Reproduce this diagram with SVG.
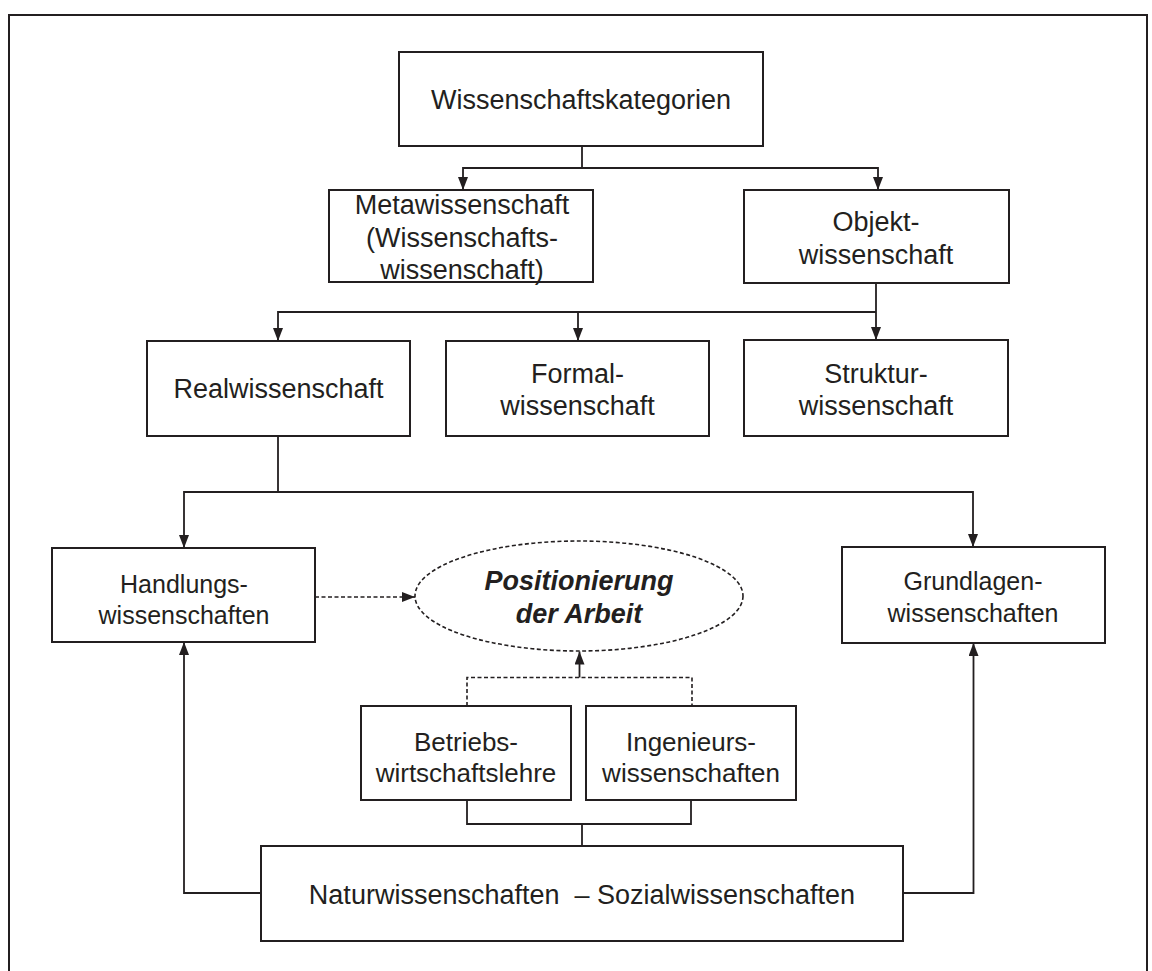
<svg xmlns="http://www.w3.org/2000/svg" width="1152" height="971" viewBox="0 0 1152 971">
<defs>
<style>
.box{fill:#fff;stroke:#231f20;stroke-width:2}
.ln{fill:none;stroke:#231f20;stroke-width:1.8}
.dash{fill:none;stroke:#231f20;stroke-width:1.6;stroke-dasharray:4 2.5}
.t{font-family:"Liberation Sans",Arial,sans-serif;font-size:27px;fill:#231f20;text-anchor:middle}
.t25{font-size:25px}
.t26{font-size:26px}
.bi{font-weight:bold;font-style:italic}
</style>
<marker id="ah" viewBox="0 0 13 10" refX="13" refY="5" markerWidth="13" markerHeight="10" markerUnits="userSpaceOnUse" orient="auto">
<path d="M0,0 L13,5 L0,10 Z" fill="#231f20"/>
</marker>
</defs>
<rect x="0" y="0" width="1152" height="971" fill="#fff"/>
<path d="M9,975 V15 H1147 V975" fill="none" stroke="#231f20" stroke-width="2"/>

<g id="connectors">
<path class="ln" d="M582,146 V168 H463 V190" marker-end="url(#ah)"/>
<path class="ln" d="M582,168 H878 V190" marker-end="url(#ah)"/>
<path class="ln" d="M876,283 V340" marker-end="url(#ah)"/>
<path class="ln" d="M876,312 H278 V341" marker-end="url(#ah)"/>
<path class="ln" d="M578,312 V341" marker-end="url(#ah)"/>
<path class="ln" d="M278,436 V492 H184 V548" marker-end="url(#ah)"/>
<path class="ln" d="M278,492 H973 V547" marker-end="url(#ah)"/>
<path class="dash" d="M315,597 H415" marker-end="url(#ah)"/>
<path class="dash" d="M467,706 V677.5 H692 V706"/>
<path class="ln" d="M579.5,677.5 V651.5" marker-end="url(#ah)"/>
<path class="ln" d="M467,800 V824 H691 V800"/>
<path class="ln" d="M582,824 V846"/>
<path class="ln" d="M261,893 H184 V642" marker-end="url(#ah)"/>
<path class="ln" d="M903,893 H973.5 V643" marker-end="url(#ah)"/>
</g>

<g id="n-kategorien">
<rect class="box" x="399" y="52" width="364" height="94"/>
<text class="t" x="581" y="109">Wissenschaftskategorien</text>
</g>
<g id="n-meta">
<rect class="box" x="329" y="190" width="264" height="92"/>
<text class="t" x="462" y="214">Metawissenschaft</text>
<text class="t" x="462" y="246.5">(Wissenschafts-</text>
<text class="t" x="462" y="279">wissenschaft)</text>
</g>
<g id="n-objekt">
<rect class="box" x="744" y="190" width="265" height="93"/>
<text class="t" x="876" y="231">Objekt-</text>
<text class="t" x="876" y="263.5">wissenschaft</text>
</g>
<g id="n-real">
<rect class="box" x="147" y="341" width="263" height="95"/>
<text class="t" x="278.5" y="398">Realwissenschaft</text>
</g>
<g id="n-formal">
<rect class="box" x="446" y="341" width="263" height="95"/>
<text class="t" x="577.5" y="383">Formal-</text>
<text class="t" x="577.5" y="415">wissenschaft</text>
</g>
<g id="n-struktur">
<rect class="box" x="744" y="340" width="264" height="96"/>
<text class="t" x="876" y="383">Struktur-</text>
<text class="t" x="876" y="415">wissenschaft</text>
</g>
<g id="n-handlung">
<rect class="box" x="52" y="548" width="263" height="94"/>
<text class="t t25" x="184" y="593">Handlungs-</text>
<text class="t t25" x="184" y="624">wissenschaften</text>
</g>
<g id="n-position">
<ellipse cx="579" cy="596" rx="164" ry="55" fill="#fff" stroke="#231f20" stroke-width="1.6" stroke-dasharray="4 2.5"/>
<text class="t bi" x="579" y="590">Positionierung</text>
<text class="t bi" x="579" y="623">der Arbeit</text>
</g>
<g id="n-grundlagen">
<rect class="box" x="842" y="547" width="263" height="96"/>
<text class="t t25" x="973" y="590">Grundlagen-</text>
<text class="t t25" x="973" y="622">wissenschaften</text>
</g>
<g id="n-bwl">
<rect class="box" x="361" y="706" width="210" height="94"/>
<text class="t t26" x="466" y="751">Betriebs-</text>
<text class="t t26" x="466" y="782">wirtschaftslehre</text>
</g>
<g id="n-ingenieur">
<rect class="box" x="586" y="706" width="210" height="94"/>
<text class="t t26" x="691" y="751">Ingenieurs-</text>
<text class="t t26" x="691" y="782">wissenschaften</text>
</g>
<g id="n-natur">
<rect class="box" x="261" y="846" width="642" height="95"/>
<text class="t" x="582" y="904" xml:space="preserve">Naturwissenschaften  – Sozialwissenschaften</text>
</g>
</svg>
